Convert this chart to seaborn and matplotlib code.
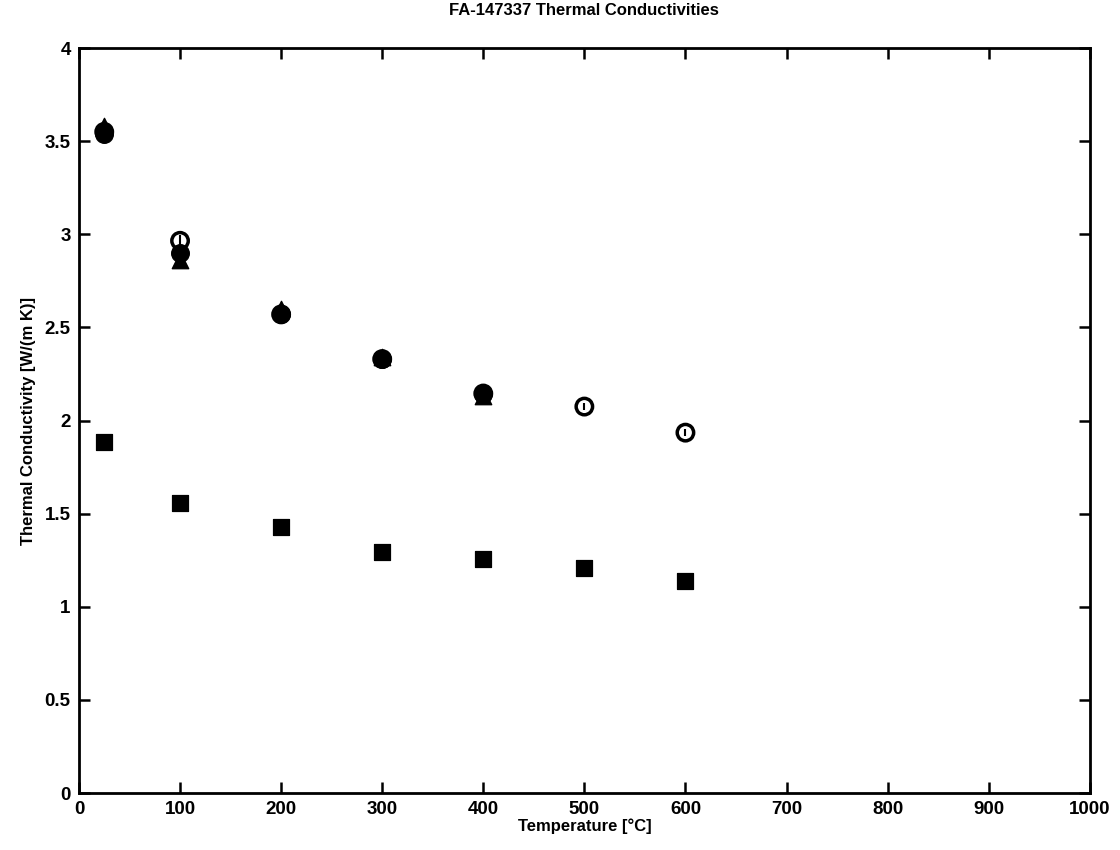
import matplotlib
matplotlib.use("Agg")
import matplotlib.pyplot as plt
import seaborn as sns
import pandas as pd
import numpy as np

# temperatures [°C]
temps_a = [25, 100, 200, 300, 400]
temps_b = [25, 100, 200, 300, 400, 500, 600]

# thermal conductivities [W/(m K)]
k_filled = [3.54, 2.90, 2.57, 2.33, 2.14]
k_filled_err = [0.03, 0.03, 0.04, 0.02, 0.02]
k_triangle = [3.58, 2.86, 2.60, 2.34, 2.13]
k_open = [3.55, 2.965, 2.57, 2.33, 2.145, 2.075, 1.935]
k_open_err = [0.02, 0.03, 0.02, 0.02, 0.02, 0.02, 0.02]
k_square = [1.887, 1.555, 1.426, 1.295, 1.257, 1.208, 1.14]

sns.set_style("white")
plt.rcParams["font.family"] = ["Liberation Sans", "DejaVu Sans"]
plt.rcParams["font.weight"] = "bold"
plt.rcParams["text.color"] = "black"
plt.rcParams["axes.labelcolor"] = "black"

fig = plt.figure(figsize=(11.2, 8.5), dpi=100)
ax = fig.add_axes([0.0705, 0.067, 0.9025, 0.8765])

df_filled = pd.DataFrame({"T": temps_a, "k": k_filled})
df_tri = pd.DataFrame({"T": temps_a, "k": k_triangle})
df_open = pd.DataFrame({"T": temps_b, "k": k_open})
df_sq = pd.DataFrame({"T": temps_b, "k": k_square})

ax.errorbar(temps_a, k_filled, yerr=k_filled_err, fmt="none", ecolor="black",
            elinewidth=1.5, capsize=3, zorder=2)
ax.errorbar(temps_b, k_open, yerr=k_open_err, fmt="none", ecolor="black",
            elinewidth=1.5, capsize=0, zorder=2)

sns.scatterplot(data=df_tri, x="T", y="k", marker="^", s=140, color="black",
                edgecolor="black", ax=ax, zorder=3)
sns.scatterplot(data=df_filled, x="T", y="k", marker="o", s=160, color="black",
                edgecolor="black", ax=ax, zorder=3)
sns.scatterplot(data=df_open, x="T", y="k", marker="o", s=140, facecolor="none",
                edgecolor="black", linewidth=2.5, ax=ax, zorder=4)
sns.scatterplot(data=df_sq, x="T", y="k", marker="s", s=120, color="black",
                edgecolor="black", ax=ax, zorder=3)

ax.set_xlim(0, 1000)
ax.set_ylim(0, 4)
ax.set_xticks(np.arange(0, 1001, 100))
ax.set_yticks(np.arange(0, 4.01, 0.5))
ax.set_yticklabels(["0", "0.5", "1", "1.5", "2", "2.5", "3", "3.5", "4"])

for side in ["top", "bottom", "left", "right"]:
    ax.spines[side].set_visible(True)
    ax.spines[side].set_color("black")
    ax.spines[side].set_linewidth(2)

ax.tick_params(direction="in", length=8, width=1.8, top=True, right=True,
               bottom=True, left=True, labelsize=13.5, colors="black", pad=6)
for lbl in ax.get_xticklabels() + ax.get_yticklabels():
    lbl.set_fontweight("bold")

ax.set_title("FA-147337 Thermal Conductivities", fontsize=12, fontweight="bold",
             color="black", pad=24)
ax.set_xlabel("Temperature [°C]", fontsize=12, fontweight="bold", labelpad=0)
ax.set_ylabel("Thermal Conductivity [W/(m K)]", fontsize=12, fontweight="bold", labelpad=6)

fig.savefig("out.png", dpi=100)
